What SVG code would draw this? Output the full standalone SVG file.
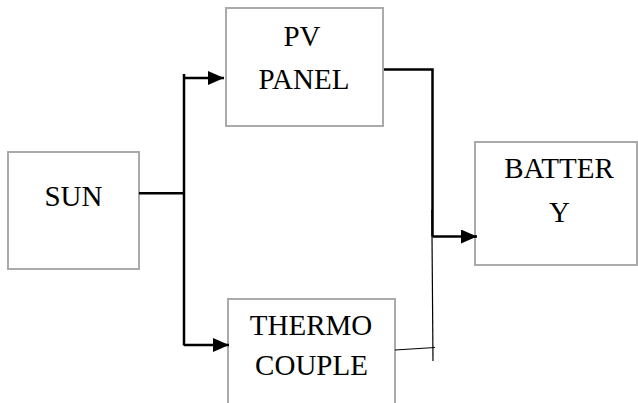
<svg xmlns="http://www.w3.org/2000/svg" width="638" height="403" viewBox="0 0 638 403">
<style>
.box{fill:#fff;stroke:#aaaaaa;stroke-width:2}
.lbl{font-family:"Liberation Serif","Times New Roman",serif;font-size:29px;fill:#000;text-anchor:middle}
.wire{fill:none;stroke:#000;stroke-width:2.5}
.thin{fill:none;stroke:#000;stroke-width:1.2}
</style>
<defs>
<marker id="arr" markerUnits="userSpaceOnUse" markerWidth="16" markerHeight="14" refX="16" refY="7" orient="auto">
<path d="M0,0 L16,7 L0,14 Z" fill="#000"/>
</marker>
</defs>
<rect width="638" height="403" fill="#fff"/>
<g id="sun">
<rect class="box" x="8" y="152" width="131" height="117"/>
<text class="lbl" x="73.5" y="205.5">SUN</text>
</g>
<g id="pv-panel">
<rect class="box" x="226" y="8" width="157" height="118"/>
<text class="lbl" x="302" y="46">PV</text>
<text class="lbl" x="304" y="89">PANEL</text>
</g>
<g id="battery">
<rect class="box" x="475" y="142" width="162" height="123"/>
<text class="lbl" x="559" y="178">BATTER</text>
<text class="lbl" x="559.5" y="221.5">Y</text>
</g>
<g id="thermocouple">
<rect class="box" x="228" y="299" width="167" height="110"/>
<text class="lbl" x="311" y="335">THERMO</text>
<text class="lbl" x="311.5" y="375">COUPLE</text>
</g>
<g id="connectors">
<path class="wire" d="M139,193.3 H184"/>
<path class="wire" d="M184,74 V345.5"/>
<path class="wire" d="M184,78 H224" marker-end="url(#arr)"/>
<path class="wire" d="M184,345 H229" marker-end="url(#arr)"/>
<path class="wire" d="M384,69.5 H432.5 V236.5"/>
<path class="wire" d="M432.5,236.5 H477" marker-end="url(#arr)"/>
<path class="thin" d="M431.8,210 L433,361"/>
<path class="thin" d="M395,350 L435,347.5"/>
</g>
</svg>
